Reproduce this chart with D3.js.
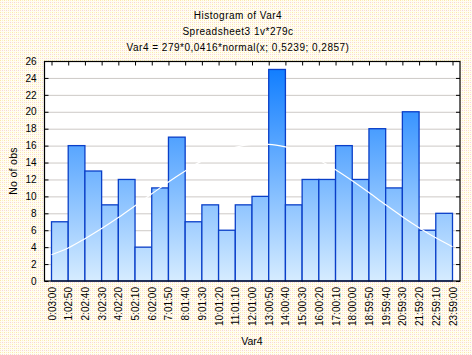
<!DOCTYPE html>
<html><head><meta charset="utf-8">
<script src="https://cdn.jsdelivr.net/npm/d3@7"></script>
<style>html,body{margin:0;padding:0;background:#fff;}svg{display:block;}</style>
</head><body>
<svg id="chart" width="472" height="355"></svg>
<script>
// ---- data ----
const titleLines = ["Histogram of Var4", "Spreadsheet3 1v*279c", "Var4 = 279*0,0416*normal(x; 0,5239; 0,2857)"];
const boundaryLabels = ["0:03:00","1:02:50","2:02:40","3:02:30","4:02:20","5:02:10","6:02:00","7:01:50","8:01:40","9:01:30","10:01:20","11:01:10","12:01:00","13:00:50","14:00:40","15:00:30","16:00:20","17:00:10","18:00:00","18:59:50","19:59:40","20:59:30","21:59:20","22:59:10","23:59:00"];
const counts = [7,16,13,9,12,4,11,17,7,9,6,9,10,25,9,12,12,16,12,18,11,20,6,8];
// fitted normal curve read at each bin boundary
const curveValues = [3.1,3.9,5.0,6.2,7.5,8.9,10.3,11.7,13.0,14.2,15.1,15.8,16.15,16.15,15.85,15.2,14.3,13.15,11.85,10.45,9.0,7.6,6.3,5.1,4.05];
const yTicks = [0,2,4,6,8,10,12,14,16,18,20,22,24,26];
const xTitle = "Var4", yTitle = "No of obs";

// ---- layout ----
const svg = d3.select("#chart");
const L = 44, R = 460, T = 61, B = 281;
const font = "'Liberation Sans', Arial, sans-serif";

const defs = svg.append("defs");
const pat = defs.append("pattern").attr("id","bgpat").attr("patternUnits","userSpaceOnUse").attr("width",4).attr("height",4);
pat.append("rect").attr("width",4).attr("height",4).attr("fill","#fffdf2");
pat.append("rect").attr("x",0).attr("y",0).attr("width",1).attr("height",1).attr("fill","#fbe9a8");
pat.append("rect").attr("x",2).attr("y",2).attr("width",1).attr("height",1).attr("fill","#f6cfe0");
pat.append("rect").attr("x",2).attr("y",0).attr("width",1).attr("height",1).attr("fill","#fdf1c4");
pat.append("rect").attr("x",0).attr("y",2).attr("width",1).attr("height",1).attr("fill","#fbe3c8");

const grad = defs.append("linearGradient").attr("id","bargrad").attr("gradientUnits","userSpaceOnUse")
  .attr("x1",0).attr("x2",0).attr("y1",T).attr("y2",B);
grad.append("stop").attr("offset","0").attr("stop-color","#0a7aff");
grad.append("stop").attr("offset","1").attr("stop-color","#d6ecff");

svg.append("rect").attr("width",472).attr("height",355).attr("fill","url(#bgpat)");
svg.append("rect").attr("x",L).attr("y",T).attr("width",R-L).attr("height",B-T).attr("fill","#fff");

const toSec = s => { const p = s.split(":").map(Number); return p[0]*3600+p[1]*60+p[2]; };
const bsec = boundaryLabels.map(toSec);
const pad = 7.5;
const x = d3.scaleLinear().domain([bsec[0], bsec[bsec.length-1]]).range([L+pad, R-pad]);
const y = d3.scaleLinear().domain([0,26]).range([B,T]);

// gridlines
svg.append("g").selectAll("line").data(yTicks.filter(v=>v>0 && v<26)).join("line")
  .attr("x1",L).attr("x2",R).attr("y1",d=>y(d)+0.5).attr("y2",d=>y(d)+0.5)
  .attr("stroke","#cdc9c6").attr("stroke-width",1);

// bars
svg.append("g").selectAll("rect").data(counts).join("rect")
  .attr("x",(d,i)=>x(bsec[i]))
  .attr("y",d=>y(d))
  .attr("width",(d,i)=>x(bsec[i+1])-x(bsec[i]))
  .attr("height",d=>B-y(d))
  .attr("fill","url(#bargrad)")
  .attr("stroke","#0a3fc8").attr("stroke-width",1.3);

// normal curve
svg.append("path").datum(curveValues)
  .attr("d", d3.line().x((d,i)=>x(bsec[i])).y(d=>y(d)).curve(d3.curveMonotoneX))
  .attr("fill","none").attr("stroke","#fff").attr("stroke-width",1.2);

// frame
svg.append("rect").attr("x",L+0.5).attr("y",T+0.5).attr("width",R-L-0.5).attr("height",B-T-0.5)
  .attr("fill","none").attr("stroke","#000").attr("stroke-width",1.2);

// axes
const yAxisL = d3.axisLeft(y).tickValues(yTicks).tickSize(-4).tickPadding(8).tickFormat(d3.format("d"));
const gL = svg.append("g").attr("transform",`translate(${L+0.5},0)`).call(yAxisL);
gL.select(".domain").remove();
const yAxisR = d3.axisRight(y).tickValues(yTicks).tickSize(-4).tickFormat("");
const gR = svg.append("g").attr("transform",`translate(${R},0)`).call(yAxisR);
gR.select(".domain").remove();
const xAxisT = d3.axisTop(x).tickValues(bsec).tickSize(-4).tickFormat("");
const gT = svg.append("g").attr("transform",`translate(0,${T+0.5})`).call(xAxisT);
gT.select(".domain").remove();
const xAxisB = d3.axisBottom(x).tickValues(bsec).tickSize(0).tickPadding(0).tickFormat((d,i)=>boundaryLabels[i]);
const gB = svg.append("g").attr("transform",`translate(0,${B})`).call(xAxisB);
gB.select(".domain").remove();
gB.selectAll("text").attr("transform","rotate(-90)").attr("text-anchor","end")
  .attr("x",-6).attr("y",0).attr("dy","0.35em");

svg.selectAll(".tick line").attr("stroke","#000");
svg.selectAll(".tick text").attr("font-family",font).attr("font-size","10px").attr("fill","#000");

// titles
svg.append("g").selectAll("text").data(titleLines).join("text")
  .attr("x",238).attr("y",(d,i)=>19+i*16)
  .attr("text-anchor","middle").attr("font-family",font).attr("font-size","10px")
  .attr("letter-spacing","0.5px").text(d=>d);
svg.append("text").attr("x",(L+R)/2).attr("y",345).attr("text-anchor","middle")
  .attr("font-family",font).attr("font-size","10.5px").text(xTitle);
svg.append("text").attr("transform",`translate(17,${(T+B)/2}) rotate(-90)`).attr("text-anchor","middle")
  .attr("font-family",font).attr("font-size","10.5px").attr("letter-spacing","0.3px").text(yTitle);
</script>
</body></html>
